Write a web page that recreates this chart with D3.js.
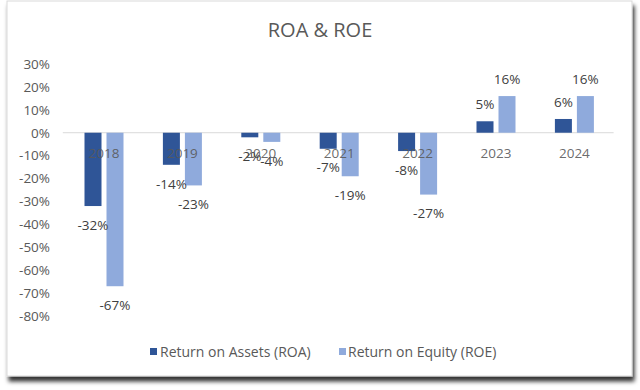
<!DOCTYPE html>
<html><head><meta charset="utf-8">
<script src="https://cdn.jsdelivr.net/npm/d3@7"></script>
<style>html,body{margin:0;padding:0;background:#fff;}svg{display:block;}</style>
</head><body>
<svg id="c" width="640" height="390"></svg>
<script>
const categories = ["2018","2019","2020","2021","2022","2023","2024"];
const seriesNames = ["Return on Assets (ROA)","Return on Equity (ROE)"];
const roa = [-32,-14,-2,-7,-8,5,6];
const roe = [-67,-23,-4,-19,-27,16,16];
const yTicks = [30,20,10,0,-10,-20,-30,-40,-50,-60,-70,-80];
const colors = ["#2F5597","#8FAADC"];

const svg = d3.select("#c");
const font = "'Open Sans', 'Noto Sans', sans-serif";

// frame + shadow
const defs = svg.append("defs");
const f = defs.append("filter").attr("id","sh").attr("x","-5%").attr("y","-5%").attr("width","110%").attr("height","115%");
f.append("feDropShadow").attr("dx",2).attr("dy",5).attr("stdDeviation",2).attr("flood-color","#000").attr("flood-opacity",0.8);
svg.append("rect").attr("x",7).attr("y",1).attr("width",625).attr("height",375)
  .attr("fill","#fff").attr("stroke","#d9d9d9").attr("stroke-width",1).attr("filter","url(#sh)");

const x = d3.scaleBand().domain(categories).range([64.8,613.6]);
const y = d3.scaleLinear().domain([-80,30]).range([316,64]);
const bw = 17, gap = 5;

svg.append("text").attr("x",320).attr("y",37).attr("text-anchor","middle")
  .attr("font-family",font).attr("font-size",20).attr("fill","#595959").text("ROA & ROE");

// y axis
const yAxis = d3.axisLeft(y).tickValues(yTicks).tickFormat(d=>d+"%").tickSize(0).tickPadding(0);
const ga = svg.append("g").attr("transform","translate(50,0)").call(yAxis);
ga.select(".domain").remove();
ga.selectAll("text").attr("font-family",font).attr("font-size",13.5).attr("fill","#595959");

// zero line
svg.append("line").attr("x1",x.range()[0]-2).attr("x2",x.range()[1]).attr("y1",y(0)).attr("y2",y(0))
  .attr("stroke","#d9d9d9").attr("stroke-width",1);

const data = [roa, roe];
data.forEach((vals, si) => {
  const off = si === 0 ? -(gap/2 + bw) : gap/2;
  svg.append("g").selectAll("rect").data(vals).enter().append("rect")
    .attr("x",(d,i)=>x(categories[i]) + x.bandwidth()/2 + off)
    .attr("width",bw)
    .attr("y",d=>y(Math.max(0,d)))
    .attr("height",d=>Math.abs(y(d)-y(0)))
    .attr("fill",colors[si]);
});

// category labels (drawn over bars)
const xAxis = d3.axisBottom(x).tickSize(0).tickPadding(0);
const gx = svg.append("g").attr("transform",`translate(0,${y(0)+21})`).call(xAxis);
gx.select(".domain").remove();
gx.selectAll("text").attr("font-family",font).attr("font-size",13.5).attr("fill","#595959").attr("fill-opacity",0.9).attr("dy","0.32em");

data.forEach((vals, si) => {
  const off = si === 0 ? -(gap/2 + bw) : gap/2;
  svg.append("g").selectAll("text").data(vals).enter().append("text")
    .attr("x",(d,i)=>x(categories[i]) + x.bandwidth()/2 + off + bw/2)
    .attr("y",d=> d<0 ? y(d)+19 : y(d)-17)
    .attr("dy","0.35em")
    .attr("text-anchor","middle")
    .attr("font-family",font).attr("font-size",13.5).attr("fill","#404040")
    .text(d=>d+"%");
});

// legend
const leg = [{x:150, tx:160},{x:339, tx:348}];
seriesNames.forEach((n,i)=>{
  svg.append("rect").attr("x",leg[i].x).attr("y",348).attr("width",7).attr("height",7).attr("fill",colors[i]);
  svg.append("text").attr("x",leg[i].tx).attr("y",352).attr("dy","0.35em")
    .attr("font-family",font).attr("font-size",14).attr("fill","#595959").text(n);
});
</script>
</body></html>
